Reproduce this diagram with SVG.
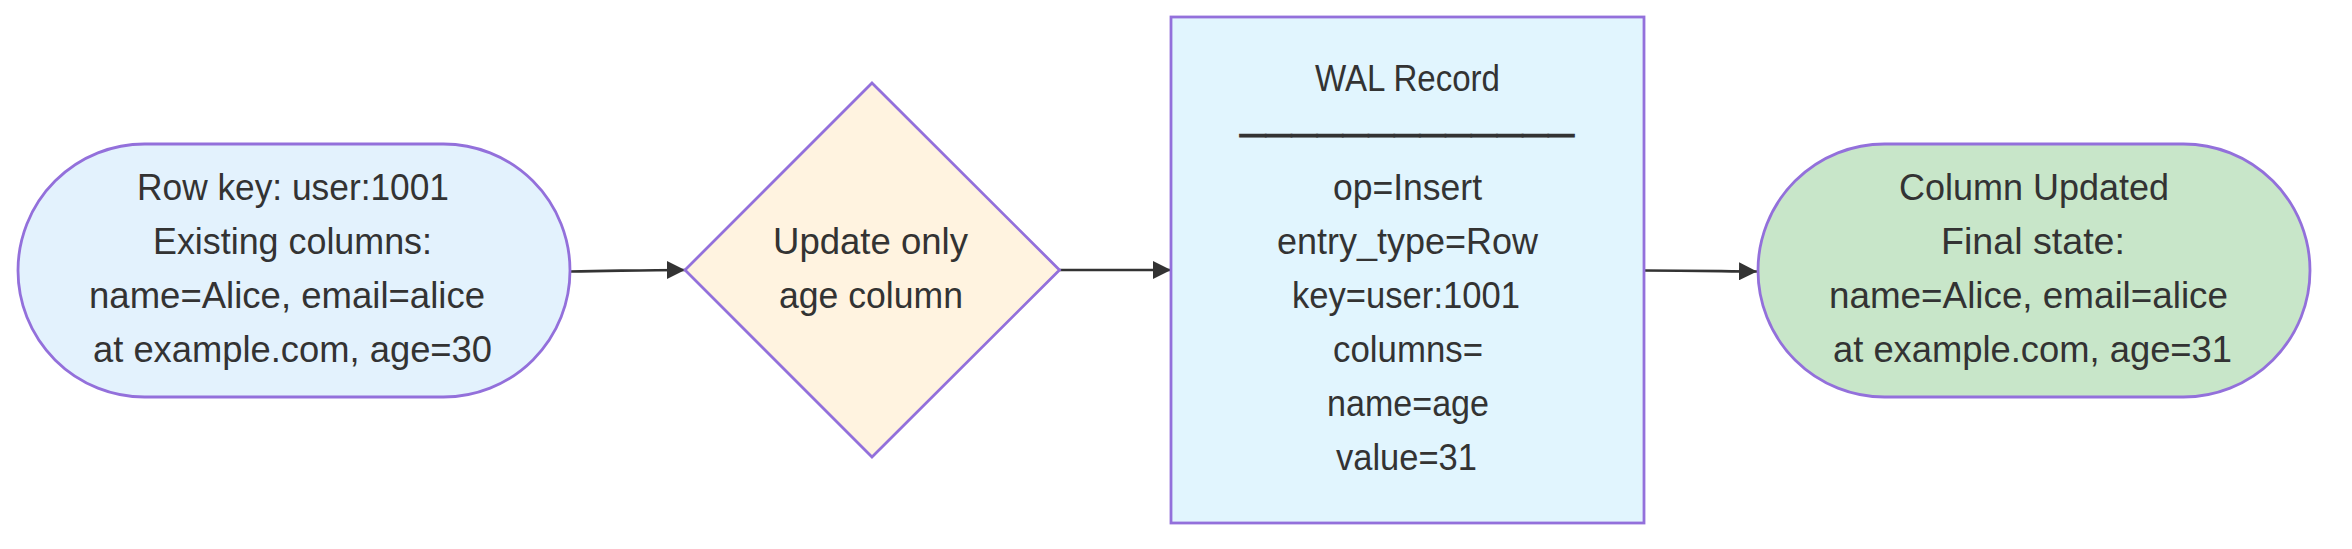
<svg xmlns="http://www.w3.org/2000/svg" width="2352" height="549" viewBox="0 0 2352 549">
<defs>
<style>
.node{stroke:#9370DB;stroke-width:2.8}
.t{font-family:"Liberation Sans",Arial,sans-serif;font-size:36px;fill:#333;text-anchor:middle}
.sep{font-family:"DejaVu Sans",sans-serif;font-size:36px;fill:#333;stroke:#333;stroke-width:0.8;text-anchor:middle}
.edge{fill:none;stroke:#333;stroke-width:2.7}
</style>
<marker id="arrow" viewBox="0 0 10 10" refX="10" refY="5" markerUnits="userSpaceOnUse" markerWidth="18" markerHeight="18" orient="auto">
<path d="M0,0 L10,5 L0,10 z" fill="#333"/>
</marker>
</defs>
<rect width="2352" height="549" fill="#ffffff"/>
<g id="edges">
<path class="edge" d="M570,271.5 C620,271 640,270 685,270" marker-end="url(#arrow)"/>
<path class="edge" d="M1059.5,270 L1171,270" marker-end="url(#arrow)"/>
<path class="edge" d="M1644,270.5 C1690,270.5 1710,271 1757,271.5" marker-end="url(#arrow)"/>
</g>
<g id="rowkey">
<rect class="node" x="18" y="144" width="552" height="253" rx="126.5" ry="126.5" fill="#E3F2FD"/>
<text class="t" x="293" y="200" textLength="312" lengthAdjust="spacingAndGlyphs">Row key: user:1001</text>
<text class="t" x="292.5" y="254" textLength="279" lengthAdjust="spacingAndGlyphs">Existing columns:</text>
<text class="t" x="287" y="308" textLength="396" lengthAdjust="spacingAndGlyphs">name=Alice, email=alice</text>
<text class="t" x="292.5" y="362" textLength="399" lengthAdjust="spacingAndGlyphs">at example.com, age=30</text>
</g>
<g id="update">
<polygon class="node" points="872,83 1059.5,270 872,457 685,270" fill="#FFF3E0"/>
<text class="t" x="870.5" y="254" textLength="195" lengthAdjust="spacingAndGlyphs">Update only</text>
<text class="t" x="871" y="308" textLength="184" lengthAdjust="spacingAndGlyphs">age column</text>
</g>
<g id="wal">
<rect class="node" x="1171" y="17" width="473" height="506" fill="#E1F5FE"/>
<text class="t" x="1407.5" y="91" textLength="185" lengthAdjust="spacingAndGlyphs">WAL Record</text>
<text class="sep" x="1407" y="147.5" textLength="334" lengthAdjust="spacingAndGlyphs">─────────────</text>
<text class="t" x="1407.5" y="199.5" textLength="149" lengthAdjust="spacingAndGlyphs">op=Insert</text>
<text class="t" x="1407.5" y="253.5" textLength="261" lengthAdjust="spacingAndGlyphs">entry_type=Row</text>
<text class="t" x="1406" y="307.5" textLength="228" lengthAdjust="spacingAndGlyphs">key=user:1001</text>
<text class="t" x="1408" y="362" textLength="150" lengthAdjust="spacingAndGlyphs">columns=</text>
<text class="t" x="1408" y="416" textLength="162" lengthAdjust="spacingAndGlyphs">name=age</text>
<text class="t" x="1406.5" y="470" textLength="141" lengthAdjust="spacingAndGlyphs">value=31</text>
</g>
<g id="updated">
<rect class="node" x="1758" y="144" width="552" height="253" rx="126.5" ry="126.5" fill="#C8E6C9"/>
<text class="t" x="2034" y="200" textLength="270" lengthAdjust="spacingAndGlyphs">Column Updated</text>
<text class="t" x="2033" y="254" textLength="184" lengthAdjust="spacingAndGlyphs">Final state:</text>
<text class="t" x="2028.5" y="308" textLength="399" lengthAdjust="spacingAndGlyphs">name=Alice, email=alice</text>
<text class="t" x="2032.5" y="362" textLength="399" lengthAdjust="spacingAndGlyphs">at example.com, age=31</text>
</g>
</svg>
